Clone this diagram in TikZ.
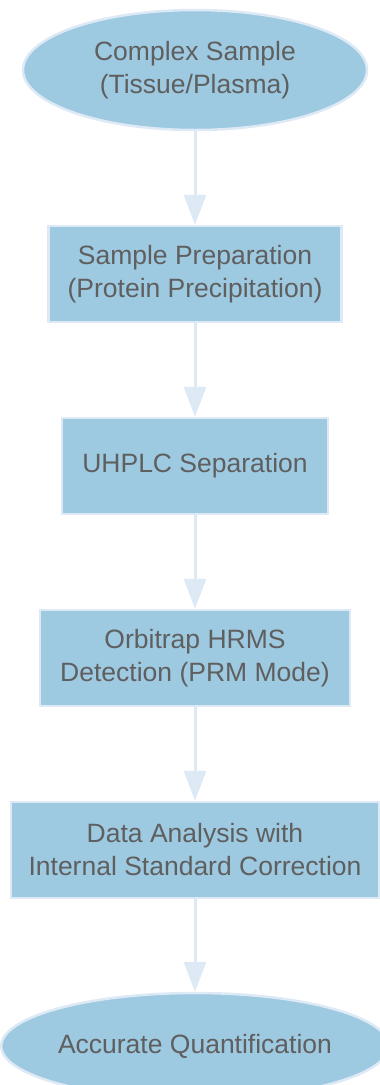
\documentclass[tikz,border=0pt]{standalone}
\usepackage{fontspec}
\setmainfont{Liberation Sans}
\usetikzlibrary{shapes.geometric,arrows.meta}
\definecolor{stepfill}{HTML}{9DC9E1}
\definecolor{stepline}{HTML}{DDE9F5}
\definecolor{steptext}{HTML}{5F5F5F}
\tikzset{
  stepbox/.style={draw=stepline, line width=2.5pt, fill=stepfill, text=steptext,
    align=center, inner sep=0pt, minimum height=96pt,
    font=\fontsize{26.5}{33}\selectfont},
  stepoval/.style={stepbox, ellipse},
  flow/.style={draw=stepline, line width=3pt,
    -{Triangle[width=22pt,length=30pt]}}
}
\begin{document}
\begin{tikzpicture}[x=1pt,y=-1pt]
\useasboundingbox (0,0) rectangle (380,1085);

\node[stepoval, minimum width=344pt, minimum height=120pt] (sample) at (195,70) {Complex Sample\\(Tissue/Plasma)};
\node[stepbox, minimum width=293pt] (prep) at (195,274) {Sample Preparation\\(Protein Precipitation)};
\node[stepbox, minimum width=266pt] (uhplc) at (195,466) {UHPLC Separation};
\node[stepbox, minimum width=310pt] (orbi) at (195,658) {Orbitrap HRMS\\Detection (PRM Mode)};
\node[stepbox, minimum width=368pt] (data) at (195,850) {Data Analysis with\\Internal Standard Correction};
\node[stepoval, minimum width=380pt, minimum height=106pt] (quant) at (195,1046) {Accurate Quantification};

\draw[flow] (sample) -- (prep);
\draw[flow] (prep) -- (uhplc);
\draw[flow] (uhplc) -- (orbi);
\draw[flow] (orbi) -- (data);
\draw[flow] (data) -- (quant);

\end{tikzpicture}
\end{document}
